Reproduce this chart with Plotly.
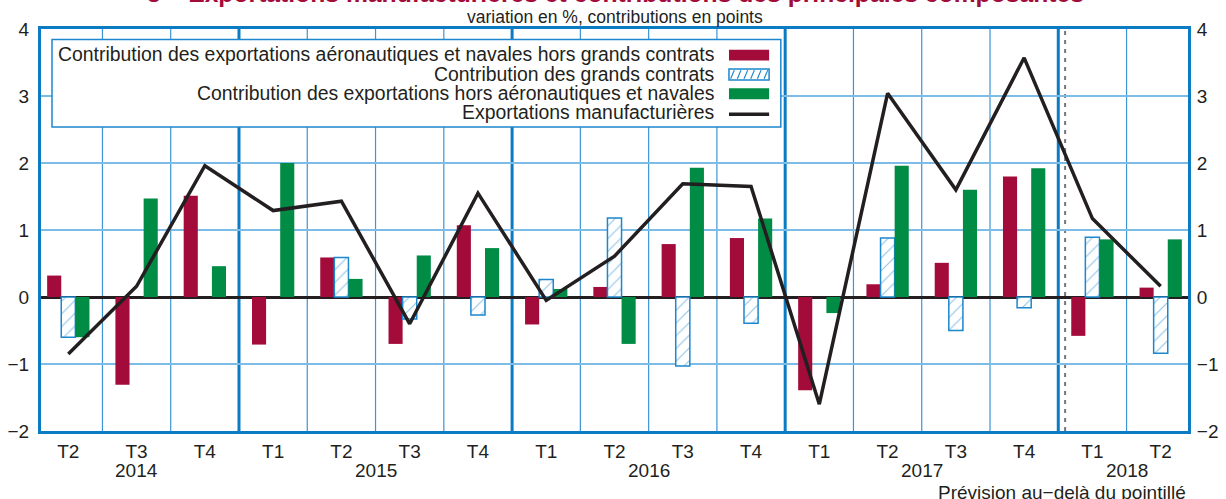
import plotly.graph_objects as go

# ---- data ----
quarters = ["T2", "T3", "T4", "T1", "T2", "T3", "T4", "T1", "T2", "T3", "T4",
            "T1", "T2", "T3", "T4", "T1", "T2"]
quarter_years = ["2014", "2014", "2014", "2015", "2015", "2015", "2015",
                 "2016", "2016", "2016", "2016", "2017", "2017", "2017", "2017",
                 "2018", "2018"]
aero_navales_hors_gc = [0.32, -1.31, 1.51, -0.71, 0.59, -0.70, 1.07, -0.41, 0.15,
                        0.79, 0.88, -1.39, 0.19, 0.51, 1.80, -0.58, 0.14]
grands_contrats = [-0.60, None, None, None, 0.59, -0.33, -0.27, 0.26, 1.18,
                   -1.03, -0.39, None, 0.88, -0.50, -0.16, 0.89, -0.84]
hors_aero_navales = [-0.60, 1.47, 0.46, 2.00, 0.27, 0.62, 0.73, 0.12, -0.70,
                     1.93, 1.17, -0.24, 1.96, 1.60, 1.92, 0.86, 0.86]
export_manuf = [-0.85, 0.16, 1.96, 1.29, 1.43, -0.40, 1.55, -0.05, 0.61, 1.69,
                1.65, -1.60, 3.04, 1.60, 3.57, 1.17, 0.16]
y_ticks = [-2, -1, 0, 1, 2, 3, 4]
forecast_start = 14.6

legend_labels = [
    "Contribution des exportations aéronautiques et navales hors grands contrats",
    "Contribution des grands contrats",
    "Contribution des exportations hors aéronautiques et navales",
    "Exportations manufacturières",
]

RED = "#A30B3A"
GREEN = "#008C45"
BLUE = "#1C87CD"
FRAME = "#0B7BC3"
GRID = "#7CBCE6"
BLACK = "#231F20"
FONT = "Liberation Sans"

x = list(range(len(quarters)))

fig = go.Figure()
fig.add_trace(go.Bar(x=x, y=aero_navales_hors_gc, marker=dict(color=RED, line=dict(width=0)),
                     name=legend_labels[0], showlegend=False))
fig.add_trace(go.Bar(x=x, y=grands_contrats,
                     marker=dict(color="white", line=dict(color=BLUE, width=1.5),
                                 pattern=dict(shape="/", fgcolor=BLUE, bgcolor="white",
                                              size=9, solidity=0.12)),
                     name=legend_labels[1], showlegend=False))
fig.add_trace(go.Bar(x=x, y=hors_aero_navales, marker=dict(color=GREEN, line=dict(width=0)),
                     name=legend_labels[2], showlegend=False))
fig.add_trace(go.Scatter(x=x, y=export_manuf, mode="lines",
                         line=dict(color=BLACK, width=3.5),
                         name=legend_labels[3], showlegend=False))
# invisible trace to carry the right-hand axis
fig.add_trace(go.Scatter(x=x, y=export_manuf, mode="lines", yaxis="y2",
                         line=dict(color="rgba(0,0,0,0)"), showlegend=False,
                         hoverinfo="skip"))

shapes = []
# vertical separators between quarters
for i, yr in enumerate(quarter_years[:-1]):
    year_break = quarter_years[i + 1] != yr
    shapes.append(dict(type="line", xref="x", yref="paper", x0=i + 0.5, x1=i + 0.5,
                       y0=0, y1=1, layer="below",
                       line=dict(color=FRAME if year_break else "#3C96D6",
                                 width=3 if year_break else 1.2)))
# forecast dashed line
shapes.append(dict(type="line", xref="x", yref="paper", x0=forecast_start, x1=forecast_start,
                   y0=0, y1=1, layer="below", line=dict(color="#777777", width=2, dash="4px,5px")))

# ---- manual legend (symbols on the right) ----
lx0, lx1, ly0, ly1 = 0.0096, 0.645, 0.756, 0.9739
shapes.append(dict(type="rect", xref="paper", yref="paper", x0=lx0, x1=lx1, y0=ly0, y1=ly1,
                   fillcolor="white", line=dict(color=BLUE, width=1.5), layer="above"))
row_y = [0.9373, 0.8881, 0.8396, 0.7923]
sw_y = [0.9350, 0.8869, 0.8390, 0.7878]
sx0, sx1 = 0.5998, 0.6348
sh = 0.0135
shapes.append(dict(type="rect", xref="paper", yref="paper", x0=sx0, x1=sx1,
                   y0=sw_y[0] - sh, y1=sw_y[0] + sh, fillcolor=RED, line=dict(width=0),
                   layer="above"))
shapes.append(dict(type="rect", xref="paper", yref="paper", x0=sx0, x1=sx1,
                   y0=sw_y[1] - sh, y1=sw_y[1] + sh, fillcolor="white",
                   line=dict(color=BLUE, width=1.5), layer="above"))
# hatch strokes for the grands contrats swatch
n_h = 6
hw = (sx1 - sx0) / n_h
for k in range(n_h):
    xa = sx0 + k * hw + hw * 0.25
    shapes.append(dict(type="line", xref="paper", yref="paper",
                       x0=xa, x1=xa + hw * 0.55,
                       y0=sw_y[1] - sh * 0.8, y1=sw_y[1] + sh * 0.8,
                       line=dict(color=BLUE, width=1.2), layer="above"))
shapes.append(dict(type="rect", xref="paper", yref="paper", x0=sx0, x1=sx1,
                   y0=sw_y[2] - sh, y1=sw_y[2] + sh, fillcolor=GREEN, line=dict(width=0),
                   layer="above"))
shapes.append(dict(type="line", xref="paper", yref="paper", x0=sx0, x1=sx1,
                   y0=sw_y[3], y1=sw_y[3], line=dict(color=BLACK, width=3.5), layer="above"))

annotations = []
for lab, ry in zip(legend_labels, row_y):
    annotations.append(dict(text=lab, xref="paper", yref="paper", x=0.5885, y=ry,
                            xanchor="right", yanchor="middle", showarrow=False,
                            font=dict(size=19.4, color=BLACK, family=FONT)))

# year labels centred under their quarters
seen = []
for yr in quarter_years:
    if yr not in seen:
        seen.append(yr)
for yr in seen:
    idx = [i for i, q in enumerate(quarter_years) if q == yr]
    annotations.append(dict(text=yr, xref="x", yref="paper", x=(idx[0] + idx[-1]) / 2,
                            y=-0.0995, xanchor="center", yanchor="middle", showarrow=False,
                            font=dict(size=19, color=BLACK, family=FONT)))

annotations.append(dict(text="Prévision au−delà du pointillé", xref="paper", yref="paper",
                        x=1.0, y=-0.154, xanchor="right", yanchor="middle", showarrow=False,
                        font=dict(size=19, color=BLACK, family=FONT)))
annotations.append(dict(text="variation en %, contributions en points", xref="paper",
                        yref="paper", x=0.5, y=1.0299, xanchor="center", yanchor="middle",
                        showarrow=False, font=dict(size=17.5, color=BLACK, family=FONT)))
annotations.append(dict(text="<b>5 – Exportations manufacturières et contributions des principales composantes</b>",
                        xref="paper", yref="paper", x=0.5009, y=1.0871, xanchor="center",
                        yanchor="middle", showarrow=False,
                        font=dict(size=24.7, color=RED, family=FONT)))

fig.update_layout(
    width=1226, height=499,
    margin=dict(l=41, r=38, t=29, b=68, autoexpand=False),
    paper_bgcolor="white", plot_bgcolor="white",
    barmode="group", bargap=0.38, bargroupgap=0,
    font=dict(family=FONT, size=19, color=BLACK),
    shapes=shapes, annotations=annotations,
    xaxis=dict(range=[-0.4, len(quarters) - 0.6], tickmode="array", tickvals=x,
               ticktext=quarters, showgrid=False, zeroline=False, automargin=False,
               showline=True, mirror=True, linecolor=FRAME, linewidth=3,
               ticks="outside", ticklen=1, tickcolor="rgba(0,0,0,0)",
               tickfont=dict(size=19, color=BLACK, family=FONT)),
    yaxis=dict(range=[-2, 4], tickmode="array", tickvals=y_ticks,
               ticktext=[str(v).replace("-", "−") for v in y_ticks], automargin=False,
               showgrid=True, gridcolor=GRID, gridwidth=2,
               zeroline=True, zerolinecolor=BLACK, zerolinewidth=2.5,
               showline=True, mirror=True, linecolor=FRAME, linewidth=3,
               ticks="outside", ticklen=5, tickcolor="rgba(0,0,0,0)",
               tickfont=dict(size=19, color=BLACK, family=FONT)),
    yaxis2=dict(range=[-2, 4], overlaying="y", side="right", tickmode="array",
                tickvals=y_ticks, ticktext=[str(v).replace("-", "−") for v in y_ticks],
                showgrid=False, zeroline=False, showline=False, automargin=False,
                ticks="outside", ticklen=4, tickcolor="rgba(0,0,0,0)",
                tickfont=dict(size=19, color=BLACK, family=FONT)),
)

fig.write_html("out.html", config={"displayModeBar": False},
               post_script="document.body.style.margin='0';document.body.style.overflow='hidden';")
